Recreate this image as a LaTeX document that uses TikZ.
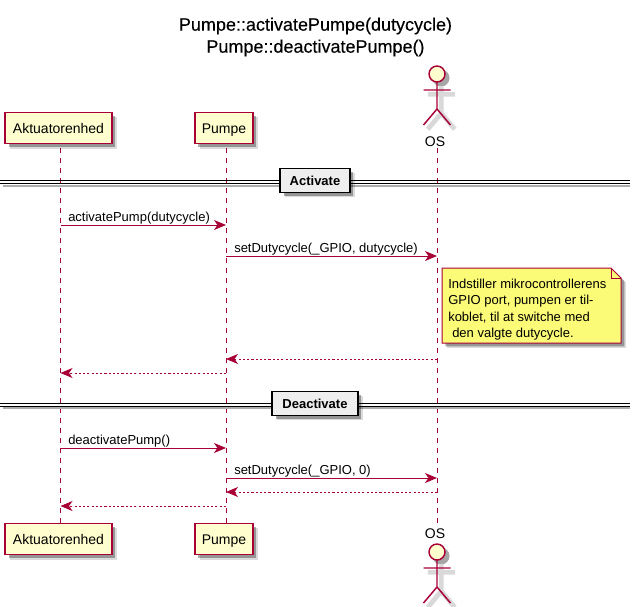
\documentclass[tikz,border=0pt]{standalone}
\usepackage{fontspec}
\usepackage{xcolor}
\setmainfont{Liberation Sans}
\newfontfamily\titlefont[FakeBold=0.25]{Liberation Sans}
\usetikzlibrary{
    arrows.meta,
    shadows,
    calc,
    positioning
}
\definecolor{umlred}{HTML}{A80036}
\definecolor{umlbox}{HTML}{FEFECE}
\definecolor{umlnote}{HTML}{FBFB77}
\definecolor{umlsep}{HTML}{EEEEEE}
\tikzset{
    softshadow/.style={
        drop shadow={shadow xshift=3.7pt, shadow yshift=-3.7pt, fill=black, opacity=.14},
        drop shadow={shadow xshift=2.6pt, shadow yshift=-2.6pt, fill=black, opacity=.32}
    },
    partbox/.style={draw=umlred, line width=1.1pt, fill=umlbox, minimum height=23.5pt, inner sep=0pt, text height=7.5pt, text depth=0pt, softshadow, font=\fontsize{10.5}{12}\selectfont},
    lifeline/.style={draw=umlred, line width=.75pt, dash pattern=on 3.75pt off 3.75pt},
    msg/.style={draw=umlred, line width=.75pt, -{Stealth[length=9pt, width=7.5pt, inset=2.6pt]}},
    rmsg/.style={msg, dash pattern=on 1.6pt off 1.6pt},
    msglabel/.style={anchor=base west, inner sep=0pt, font=\fontsize{9.75}{12}\selectfont},
    seplabel/.style={draw=black, line width=1.4pt, fill=umlsep, minimum height=18pt, inner sep=0pt, text height=7pt, text depth=0pt, softshadow, font=\bfseries\fontsize{9.75}{12}\selectfont},
    sepline/.style={draw=black, line width=.75pt},
    sepshade/.style={draw=black!32, line width=1.5pt},
    actorlabel/.style={inner sep=0pt, font=\fontsize{10.5}{12}\selectfont},
    notetext/.style={anchor=base west, inner sep=0pt, font=\fontsize{9.75}{12}\selectfont},
    actorfig/.pic={
        \fill[black!35, xshift=3pt, yshift=-3pt] (0,0) circle (8.5);
        \draw[black!15, line width=3.6pt, xshift=3.2pt, yshift=-3.2pt] (0,8) -- (0,35) (-13.5,16) -- (13.5,16) (0,35) -- (-13.5,51) (0,35) -- (13.5,51);
        \draw[umlred, line width=1.1pt, fill=umlbox] (0,0) circle (8);
        \draw[umlred, line width=1.1pt] (0,8) -- (0,35) (-13.5,16) -- (13.5,16) (0,35) -- (-13.5,51) (0,35) -- (13.5,51);
    }
}

\begin{document}
\begin{tikzpicture}[x=.75pt, y=-.75pt]
    \useasboundingbox (0, 0) rectangle (636, 607);

    \node[align=center, font=\titlefont\fontsize{13.5}{16.5}\selectfont] (title) at (315.5, 37) {Pumpe::activatePumpe(dutycycle)\\Pumpe::deactivatePumpe()};

    % lifelines
    \coordinate (aktTop) at (60.5, 148);
    \coordinate (aktBot) at (60.5, 523);
    \coordinate (pumpeTop) at (226, 148);
    \coordinate (pumpeBot) at (226, 523);
    \coordinate (osTop) at (437, 148);
    \coordinate (osBot) at (437, 523);
    \draw[lifeline] (aktTop) -- (aktBot);
    \draw[lifeline] (pumpeTop) -- (pumpeBot);
    \draw[lifeline] (osTop) -- (osBot);

    % participants
    \node[partbox, minimum width=80pt] (akt) at (58.5, 128) {Aktuatorenhed};
    \node[partbox, minimum width=43.5pt] (pumpe) at (224, 128) {Pumpe};
    \pic at (437, 74) {actorfig};
    \node[actorlabel] (os) at (435, 142) {OS};

    \node[partbox, minimum width=80pt] (aktB) at (58.5, 539) {Aktuatorenhed};
    \node[partbox, minimum width=43.5pt] (pumpeB) at (224, 539) {Pumpe};
    \node[actorlabel] (osB) at (435, 534) {OS};
    \pic at (437, 552) {actorfig};

    % Activate
    \draw[sepshade] (3, 186) -- (630, 186);
    \draw[sepline] (0, 180.7) -- (630, 180.7);
    \draw[sepline] (0, 183.7) -- (630, 183.7);
    \node[seplabel, minimum width=52pt] (sepA) at (315, 180.5) {Activate};

    \draw[msg] (aktTop |- 0, 225) -- (pumpeTop |- 0, 225);
    \node[msglabel] (m1) at (68, 221) {activatePump(dutycycle)};

    \draw[msg] (pumpeTop |- 0, 256) -- (osTop |- 0, 256);
    \node[msglabel] (m2) at (234, 252) {setDutycycle(\_GPIO, dutycycle)};

    % note with folded corner
    \draw[draw=umlred, line width=.75pt, fill=umlnote, softshadow] (442, 268) -- (611, 268) -- (621, 278) -- (621, 343) -- (442, 343) -- cycle;
    \draw[draw=umlred, line width=.75pt] (611, 268) -- (611, 278) -- (621, 278);
    \node[notetext] (n1) at (448, 288) {Indstiller mikrocontrollerens};
    \node[notetext] (n2) at (448, 304.5) {GPIO port, pumpen er til-};
    \node[notetext] (n3) at (448, 321) {koblet, til at switche med};
    \node[notetext] (n4) at (452, 337) {den valgte dutycycle.};

    \draw[rmsg] (osTop |- 0, 359) -- (pumpeTop |- 0, 359);
    \draw[rmsg] (pumpeTop |- 0, 373) -- (aktTop |- 0, 373);

    % Deactivate
    \draw[sepshade] (3, 408) -- (630, 408);
    \draw[sepline] (0, 403) -- (630, 403);
    \draw[sepline] (0, 406) -- (630, 406);
    \node[seplabel, minimum width=64pt] (sepD) at (315, 403.5) {Deactivate};

    \draw[msg] (aktTop |- 0, 448) -- (pumpeTop |- 0, 448);
    \node[msglabel] (m3) at (68, 444) {deactivatePump()};

    \draw[msg] (pumpeTop |- 0, 478) -- (osTop |- 0, 478);
    \node[msglabel] (m4) at (234, 474) {setDutycycle(\_GPIO, 0)};

    \draw[rmsg] (osTop |- 0, 492) -- (pumpeTop |- 0, 492);
    \draw[rmsg] (pumpeTop |- 0, 506) -- (aktTop |- 0, 506);
\end{tikzpicture}
\end{document}
